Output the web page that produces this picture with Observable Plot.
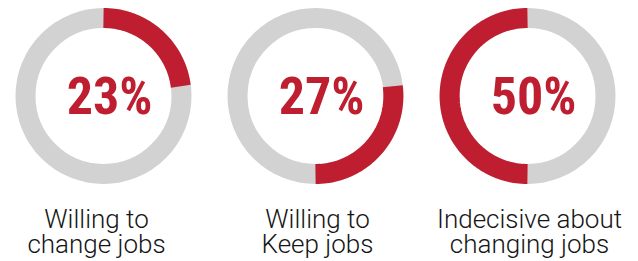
<!DOCTYPE html>
<html>
<head>
<meta charset="utf-8">
<script src="https://cdn.jsdelivr.net/npm/d3@7"></script>
<script src="https://cdn.jsdelivr.net/npm/@observablehq/plot@0.6"></script>
<style>
  html, body { margin: 0; padding: 0; background: #fff; }
  #chart svg { display: block; }
</style>
</head>
<body>
<div id="chart"></div>
<script>
// ---- data ----
const categories = ["Willing to change jobs", "Willing to Keep jobs", "Indecisive about changing jobs"];
const labels = ["Willing to\nchange jobs", "Willing to\nKeep jobs", "Indecisive about\nchanging jobs"];
const shares = [23, 27, 50];

// ---- derived tables ----
const starts = shares.map((_, i) => d3.sum(shares.slice(0, i)));
const rows = categories.map((c, i) => ({cat: c, label: labels[i], share: shares[i], start: starts[i]}));
const arcPts = rows.flatMap(r => {
  const n = Math.max(2, Math.round(r.share * 2));
  return d3.range(n + 1).map(k => {
    const f = (r.start + r.share * k / n) / 100;
    const a = f * 2 * Math.PI;
    return {cat: r.cat, x: Math.sin(a), y: Math.cos(a)};
  });
});

const R = 78;            // ring centre-line radius in px (1 data unit)
const W = 638, H = 261;
const mL = -4, mR = 5;
const band = (W - mL - mR) / 3;
const cy = 95.5;
const labelStyle = {fx: "cat", x: () => 0, y: () => (cy - 209.5) / R, text: "label", lineAnchor: "top", lineHeight: 0.97,
  fill: "#151515", fontSize: 26, fontWeight: 300, fontFamily: "Roboto, sans-serif", textAnchor: "middle"};

const chart = Plot.plot({
  width: W,
  height: H,
  marginLeft: mL,
  marginRight: mR,
  marginTop: 0,
  marginBottom: 0,
  fx: {domain: categories, padding: 0, axis: null},
  x: {domain: [-band / 2 / R, band / 2 / R], axis: null},
  y: {domain: [-(H - cy) / R, cy / R], axis: null},
  style: {background: "#fff"},
  marks: [
    Plot.dot(rows, {fx: "cat", x: () => 0, y: () => 0, r: R, stroke: "#d2d2d2", strokeWidth: 20, fill: "none"}),
    Plot.line(arcPts, {fx: "cat", x: "x", y: "y", z: "cat", stroke: "#be1e2f", strokeWidth: 20, strokeLinecap: "butt", curve: "linear"}),
    Plot.text(rows, {fx: "cat", x: () => 0, y: () => 0, text: d => d.share + "%", dx: 6, dy: 1,
      fill: "#be1e2f", fontSize: 52, fontWeight: "bold", fontFamily: "'Roboto Condensed', Roboto, sans-serif", letterSpacing: -2, textAnchor: "middle"}),
    Plot.text(rows.filter((d, i) => i === 0), {...labelStyle, dx: -7}),
    Plot.text(rows.filter((d, i) => i > 0), {...labelStyle, dx: 2})
  ]
});
document.getElementById("chart").appendChild(chart);
</script>
</body>
</html>
